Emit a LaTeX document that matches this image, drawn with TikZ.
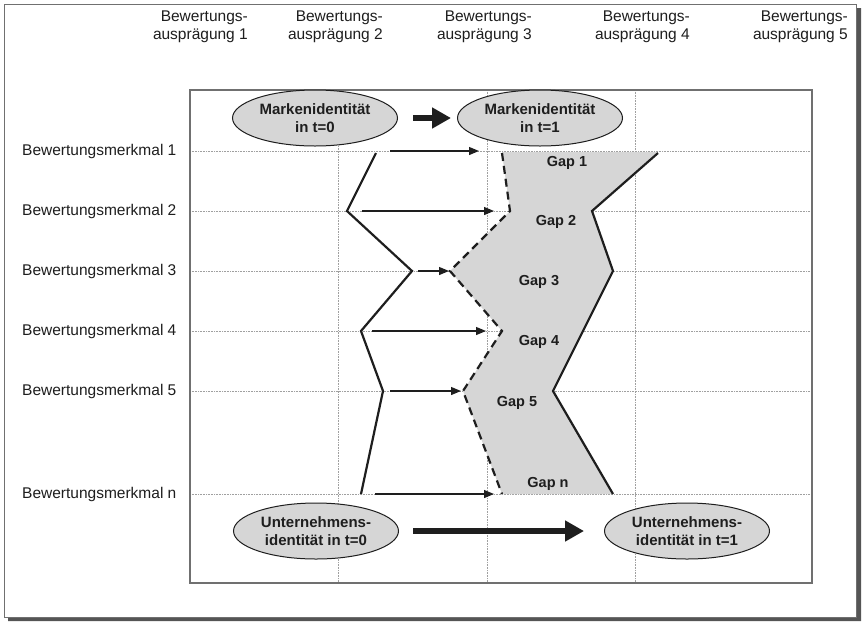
\documentclass[tikz,border=0pt]{standalone}
\usepackage{fontspec}
\setmainfont{Liberation Sans}
\usetikzlibrary{arrows.meta,shapes.geometric}
\definecolor{ink}{HTML}{1E1E1E}
\definecolor{gridc}{HTML}{A0A0A0}
\definecolor{fillc}{HTML}{D6D6D6}
\definecolor{framec}{HTML}{707070}
\definecolor{shadowc}{HTML}{555555}
\begin{document}
\begin{tikzpicture}[x=1pt,y=-1pt,
 lbl/.style={font=\fontsize{15.5}{17.5}\selectfont, text=ink, inner sep=0pt},
 hdr/.style={lbl, align=right, anchor=east},
 rowlbl/.style={lbl, anchor=west},
 gaplbl/.style={font=\bfseries\fontsize{14.5}{16}\selectfont, text=ink, inner sep=0pt},
 oval/.style={ellipse, draw=ink, line width=1pt, fill=fillc, minimum width=165pt, minimum height=56pt, inner sep=0pt, align=center, font=\bfseries\fontsize{15}{17.5}\selectfont, text=ink},
 gridl/.style={gridc, line width=0.6pt, densely dotted},
 prof/.style={ink, line width=2.2pt, line join=miter},
 profdash/.style={prof, dash pattern=on 8pt off 5pt},
 thinarrow/.style={ink, line width=1.2pt, -{Triangle[length=10pt,width=8pt]}},
 fatarrow/.style={ink, line width=6.5pt, -{Triangle[length=19pt,width=20pt]}},
]
\useasboundingbox (0,0) rectangle (862,622);
% outer frame with shadow
\fill[white] (4,4) rectangle (856,617);
\fill[shadowc] (856,8) -- (861,8) -- (861,621) -- (8,621) -- (8,617) -- (856,617) -- cycle;
\draw[framec, line width=1pt] (4,4) rectangle (856,617);

% grid
\foreach \x in {338,487,635} \draw[gridl] (\x,90) -- (\x,583);
\foreach \y in {151,211,271,331,391,494} \draw[gridl] (190,\y) -- (812,\y);
\draw[framec, line width=1.1pt] (190,90) rectangle (812,583);

% headers
\node[hdr] (h1) at (248,27) {Bewertungs-\\ausprägung 1};
\node[hdr] (h2) at (383,27) {Bewertungs-\\ausprägung 2};
\node[hdr] (h3) at (532,27) {Bewertungs-\\ausprägung 3};
\node[hdr] (h4) at (690,27) {Bewertungs-\\ausprägung 4};
\node[hdr] (h5) at (848,27) {Bewertungs-\\ausprägung 5};

% row labels
\node[rowlbl] (r1) at (22,151) {Bewertungsmerkmal 1};
\node[rowlbl] (r2) at (22,211) {Bewertungsmerkmal 2};
\node[rowlbl] (r3) at (22,271) {Bewertungsmerkmal 3};
\node[rowlbl] (r4) at (22,331) {Bewertungsmerkmal 4};
\node[rowlbl] (r5) at (22,391) {Bewertungsmerkmal 5};
\node[rowlbl] (rn) at (22,494) {Bewertungsmerkmal n};

% profile points
\coordinate (a1) at (376,153);
\coordinate (a2) at (347,211);
\coordinate (a3) at (412,271);
\coordinate (a4) at (361,331);
\coordinate (a5) at (383,391);
\coordinate (an) at (361,494);
\coordinate (b1) at (502,153);
\coordinate (b2) at (510,211);
\coordinate (b3) at (450,271);
\coordinate (b4) at (502,331);
\coordinate (b5) at (463,391);
\coordinate (bn) at (502,494);
\coordinate (c1) at (658,153);
\coordinate (c2) at (592,211);
\coordinate (c3) at (613,271);
\coordinate (c5) at (553,391);
\coordinate (cn) at (613,494);

% shaded gap area
\fill[fillc] (502,152) -- (657,152) -- (c2) -- (c3) -- (c5) -- (cn) -- (bn) -- (b5) -- (b4) -- (b3) -- (b2) -- (b1) -- cycle;

% profiles
\draw[prof] (a1) -- (a2) -- (a3) -- (a4) -- (a5) -- (an);
\draw[profdash] (b1) -- (b2) -- (b3) -- (b4) -- (b5) -- (bn);
\draw[prof] (c1) -- (c2) -- (c3) -- (c5) -- (cn);

% thin arrows
\coordinate (s1) at (390,151); \coordinate (t1) at (479,151);
\coordinate (s2) at (362,211); \coordinate (t2) at (494,211);
\coordinate (s3) at (418,271); \coordinate (t3) at (449,271);
\coordinate (s4) at (372,331); \coordinate (t4) at (486,331);
\coordinate (s5) at (390,391); \coordinate (t5) at (461,391);
\coordinate (sn) at (375,494); \coordinate (tn) at (494,494);
\foreach \i in {1,2,3,4,5,n} \draw[thinarrow] (s\i) -- (t\i);

% gap labels
\node[gaplbl] (g1) at (567,163) {Gap 1};
\node[gaplbl] (g2) at (556,222) {Gap 2};
\node[gaplbl] (g3) at (539,282) {Gap 3};
\node[gaplbl] (g4) at (539,342) {Gap 4};
\node[gaplbl] (g5) at (517,403) {Gap 5};
\node[gaplbl] (gn) at (548,484) {Gap n};

% ellipses
\node[oval] (m0) at (315,118) {Markenidentität\\in t=0};
\node[oval] (m1) at (540,118) {Markenidentität\\in t=1};
\node[oval] (u0) at (316,531) {Unternehmens-\\identität in t=0};
\node[oval] (u1) at (687,531) {Unternehmens-\\identität in t=1};

% fat arrows
\coordinate (fa) at (413,118); \coordinate (fb) at (451,118);
\draw[fatarrow] (fa) -- (fb);
\coordinate (fc) at (413,531); \coordinate (fd) at (584,531);
\draw[fatarrow] (fc) -- (fd);
\end{tikzpicture}
\end{document}
